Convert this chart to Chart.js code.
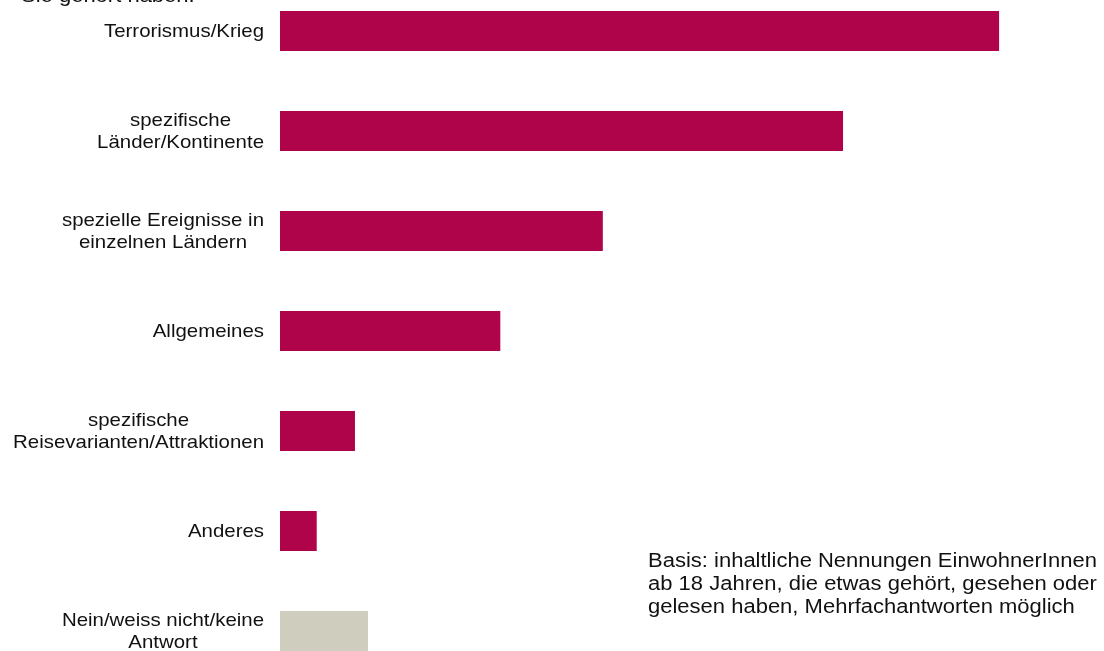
<!DOCTYPE html>
<html>
<head>
<meta charset="utf-8">
<script src="https://cdn.jsdelivr.net/npm/chart.js@4.4.1/dist/chart.umd.min.js"></script>
<style>
  html, body { margin: 0; padding: 0; background: #fff; overflow: hidden; }
  #wrap { position: absolute; left: 0; top: -19px; width: 1104px; height: 700px; }
</style>
</head>
<body>
<div id="wrap"><canvas id="c"></canvas></div>
<script>
const categories = [
  ["Terrorismus/Krieg"],
  ["spezifische", "Länder/Kontinente"],
  ["spezielle Ereignisse in", "einzelnen Ländern"],
  ["Allgemeines"],
  ["spezifische", "Reisevarianten/Attraktionen"],
  ["Anderes"],
  ["Nein/weiss nicht/keine", "Antwort"]
];
const values = [47.0, 36.8, 21.1, 14.4, 4.9, 2.4, 5.75];
const barColors = ["#B0044A", "#B0044A", "#B0044A", "#B0044A", "#B0044A", "#B0044A", "#CFCDBE"];
const titleText = "Sie gehört haben:";
const noteLines = [
  "Basis: inhaltliche Nennungen EinwohnerInnen",
  "ab 18 Jahren, die etwas gehört, gesehen oder",
  "gelesen haben, Mehrfachantworten möglich"
];

const FAMILY = '"Liberation Sans", Arial, sans-serif';
const LABEL_FONT = '19px ' + FAMILY;
const NOTE_FONT = '20px ' + FAMILY;
const LABEL_HSCALE = 1.075;
const NOTE_HSCALE = 1.1;
const LH = 22.5;

function drawScaled(ctx, text, x, y, align, sx) {
  ctx.save();
  ctx.translate(x, y);
  ctx.scale(sx, 1);
  ctx.textAlign = align;
  ctx.fillText(text, 0, 0);
  ctx.restore();
}

const labelPlugin = {
  id: 'labels',
  afterDraw(chart) {
    const ctx = chart.ctx;
    const ys = chart.scales.y;
    ctx.save();
    ctx.font = LABEL_FONT;
    ctx.fillStyle = '#111';
    ctx.textBaseline = 'middle';
    const rightX = 264;
    categories.forEach((lines, i) => {
      const yc = ys.getPixelForValue(i) + 1;
      const w = Math.max(...lines.map(l => ctx.measureText(l).width)) * LABEL_HSCALE;
      const cx = rightX - w / 2;
      const y0 = yc - (lines.length - 1) * LH / 2;
      lines.forEach((l, k) => drawScaled(ctx, l, cx, y0 + k * LH, 'center', LABEL_HSCALE));
    });
    // cut-off title at top
    ctx.font = NOTE_FONT;
    ctx.textBaseline = 'alphabetic';
    drawScaled(ctx, titleText, 21, 19 + 2, 'left', NOTE_HSCALE);
    // note
    ctx.textBaseline = 'middle';
    noteLines.forEach((l, k) => drawScaled(ctx, l, 648, 19 + 561 + k * 23, 'left', NOTE_HSCALE));
    ctx.restore();
  }
};

new Chart(document.getElementById('c'), {
  type: 'bar',
  data: {
    labels: categories,
    datasets: [{
      data: values,
      backgroundColor: barColors,
      borderWidth: 0,
      categoryPercentage: 1,
      barPercentage: 0.4
    }]
  },
  options: {
    indexAxis: 'y',
    responsive: true,
    maintainAspectRatio: false,
    animation: false,
    layout: { padding: { left: 280, right: 59, top: 0, bottom: 0 } },
    plugins: { legend: { display: false }, tooltip: { enabled: false } },
    scales: {
      x: { display: false, min: 0, max: 50 },
      y: { display: false }
    }
  },
  plugins: [labelPlugin]
});
</script>
</body>
</html>
